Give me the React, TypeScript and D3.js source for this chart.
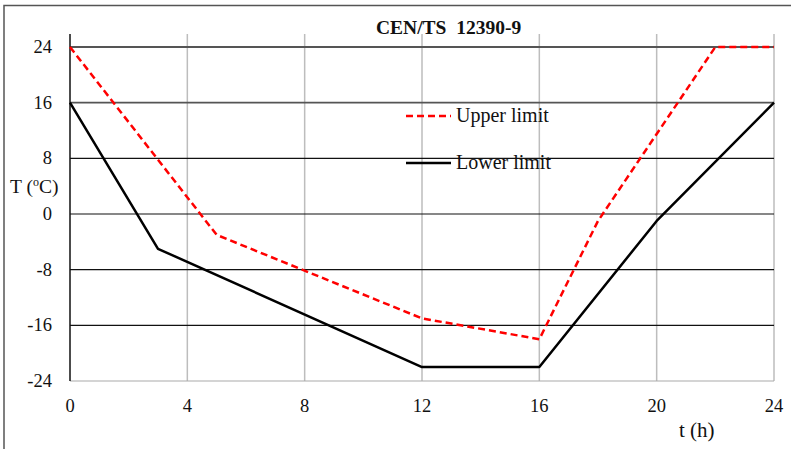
import React from 'react'
import * as d3 from 'd3'

const width = 791
const height = 449

// hours / temperatures
const upperT = [0, 5, 12, 16, 18, 22, 24]
const upperV = [24, -3, -15, -18, -1, 24, 24]
const lowerT = [0, 3, 12, 16, 20, 24]
const lowerV = [16, -5, -22, -22, -1, 16]
const xTicks = [0, 4, 8, 12, 16, 20, 24]
const yTicks = [24, 16, 8, 0, -8, -16, -24]
const legendLabels = ['Upper limit', 'Lower limit']

const font = '"Liberation Serif", "Times New Roman", serif'

const x = d3.scaleLinear().domain([0, 24]).range([70, 774])
const y = d3.scaleLinear().domain([-24, 24]).range([381, 47])
const plotTop = 34

const line = d3.line<[number, number]>()
  .x(d => x(d[0]))
  .y(d => y(d[1]))

const upperPts = upperT.map((t, i) => [t, upperV[i]] as [number, number])
const lowerPts = lowerT.map((t, i) => [t, lowerV[i]] as [number, number])

const App: React.FC = () => {
  return (
    <div style={{ position: 'absolute', left: 0, top: 0 }}>
      <svg width={width} height={height} style={{ display: 'block', background: '#fff' }}>
        {/* outer frame, only top/left visible */}
        <rect x={4} y={5.5} width={width + 10} height={height + 10} fill="none" stroke="#555" strokeWidth={1.5} />

        {/* vertical grid */}
        {xTicks.slice(1).map(t => (
          <line key={'vx' + t} x1={x(t)} x2={x(t)} y1={plotTop} y2={y(-24)} stroke="#bdbdbd" strokeWidth={1.5} />
        ))}
        {/* horizontal grid */}
        {yTicks.slice(0, -1).map(v => (
          <line key={'hy' + v} x1={x(0)} x2={x(24)} y1={y(v)} y2={y(v)}
            stroke={v >= 16 ? '#555' : '#111'} strokeWidth={v >= 16 ? 1.8 : 1.1} />
        ))}
        {/* bottom axis */}
        <line x1={x(0)} x2={x(24)} y1={y(-24)} y2={y(-24)} stroke="#aaa" strokeWidth={1.2} />
        {/* left axis */}
        <line x1={x(0)} x2={x(0)} y1={plotTop} y2={y(-24)} stroke="#111" strokeWidth={1.5} />

        {/* y tick labels */}
        {yTicks.map(v => (
          <text key={'yl' + v} x={52} y={y(v) + 6} textAnchor="end" fontFamily={font} fontSize={18.5} fill="#111">{v}</text>
        ))}
        {/* x tick labels */}
        {xTicks.map(t => (
          <text key={'xl' + t} x={x(t)} y={412} textAnchor="middle" fontFamily={font} fontSize={18.5} fill="#111">{t}</text>
        ))}

        {/* axis titles */}
        <text x={10} y={193} fontFamily={font} fontSize={19.5} fill="#111">
          T (<tspan fontSize={12} dy={-7}>o</tspan><tspan dy={7}>C)</tspan>
        </text>
        <text x={679} y={437} fontFamily={font} fontSize={21} fill="#111">t (h)</text>

        {/* title */}
        <text x={376} y={34} fontFamily={font} fontSize={19.5} fontWeight="bold" fill="#111" style={{ whiteSpace: 'pre' }}>CEN/TS  12390-9</text>

        {/* series */}
        <path d={line(lowerPts) || ''} fill="none" stroke="#000" strokeWidth={2.5} strokeLinejoin="round" />
        <path d={line(upperPts) || ''} fill="none" stroke="#ff0000" strokeWidth={2.5} strokeDasharray="7,4" />

        {/* legend */}
        <line x1={406} x2={451} y1={116} y2={116} stroke="#ff0000" strokeWidth={2.5} strokeDasharray="7,4" />
        <text x={456} y={122} fontFamily={font} fontSize={20} fill="#111">{legendLabels[0]}</text>
        <line x1={406} x2={451} y1={163} y2={163} stroke="#000" strokeWidth={2.5} />
        <text x={456} y={169} fontFamily={font} fontSize={20} fill="#111">{legendLabels[1]}</text>
      </svg>
    </div>
  )
}

export default App
